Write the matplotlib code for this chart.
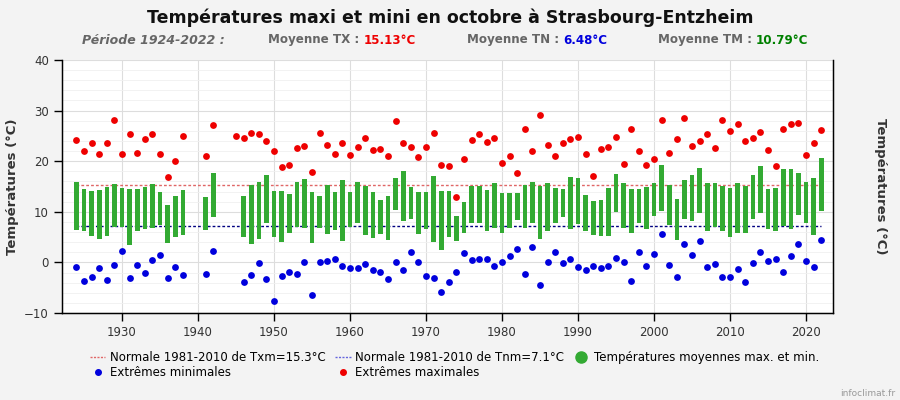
import numpy as np
import matplotlib
matplotlib.use("Agg")
import matplotlib.pyplot as plt
from matplotlib.lines import Line2D

nan = np.nan

# années 1924 -> 2022
annees = np.arange(1924, 2023)

# moyennes des maxi (haut des barres)
tx_moy = [15.9, 14.6, 14.1, 14.3, 14.9, 15.4, 14.7, 14.5, 14.5, 14.9,
          15.4, 14.0, 11.4, 13.1, 14.4, nan, nan, 12.9, 17.6, nan,
          nan, nan, 13.1, 15.2, 15.8, 17.2, 14.1, 14.2, 13.5, 15.8,
          16.5, 13.9, 13.1, 15.2, 13.9, 16.2, 13.9, 15.8, 15.0, 13.9,
          12.3, 13.1, 16.6, 18.0, 14.9, 13.9, 13.9, 17.1, 14.1, 14.1,
          9.1, 11.9, 15.0, 15.0, 14.3, 15.6, 13.7, 13.7, 13.7, 15.2,
          15.8, 15.1, 15.6, 14.7, 14.6, 16.9, 16.6, 13.3, 12.1, 12.3,
          14.7, 17.4, 15.6, 14.5, 14.5, 14.9, 15.6, 19.2, 15.2, 12.5,
          16.2, 17.2, 18.6, 15.7, 15.7, 15.1, 14.7, 15.6, 15.0, 17.2,
          19.0, 14.5, 14.7, 18.4, 18.4, 17.7, 15.8, 16.7, 20.7]

# moyennes des mini (bas des barres)
tn_moy = [6.5, 6.2, 5.2, 4.7, 5.2, 6.9, 6.9, 3.4, 6.2, 6.6,
          6.7, 7.3, 3.8, 5.1, 5.5, nan, nan, 6.5, 9.0, nan,
          nan, nan, 5.0, 3.7, 4.7, 7.8, 5.0, 4.0, 5.8, 6.9,
          6.7, 3.9, 6.7, 5.7, 6.5, 4.3, 7.0, 7.8, 5.4, 4.9,
          5.6, 4.5, 10.3, 8.2, 8.5, 5.6, 6.6, 4.0, 2.4, 5.0,
          4.3, 5.9, 7.8, 7.8, 6.2, 6.7, 5.9, 6.8, 8.4, 6.7,
          7.7, 4.6, 6.3, 7.7, 9.0, 6.6, 7.5, 6.3, 5.5, 5.3,
          5.3, 10.0, 6.8, 5.9, 7.8, 6.6, 9.2, 10.2, 7.3, 4.4,
          8.5, 8.2, 9.8, 6.3, 7.0, 6.3, 5.0, 5.9, 5.8, 8.6,
          9.8, 6.6, 6.2, 7.2, 6.6, 9.4, 7.8, 5.4, 10.2]

# extrêmes maximales
ext_max = [24.2, 22.0, 23.6, 21.5, 23.6, 28.2, 21.4, 25.4, 21.6, 24.4,
           25.4, 21.5, 16.8, 20.1, 25.0, nan, nan, 21.0, 27.2, nan,
           nan, 25.0, 24.6, 25.6, 25.4, 24.0, 22.0, 18.9, 19.3, 22.6,
           23.0, 17.9, 25.6, 23.2, 21.4, 23.6, 21.2, 22.8, 24.6, 22.2,
           22.4, 21.0, 28.0, 23.6, 22.8, 20.9, 22.8, 25.6, 19.3, 19.1,
           12.9, 20.5, 24.2, 25.4, 23.8, 24.6, 19.7, 21.0, 17.7, 26.4,
           22.0, 29.2, 23.2, 21.0, 23.6, 24.4, 24.8, 21.4, 17.1, 22.4,
           22.8, 24.8, 19.5, 26.4, 22.0, 19.3, 20.5, 28.2, 21.6, 24.4,
           28.6, 23.0, 24.0, 25.4, 22.6, 28.2, 26.0, 27.4, 24.0, 24.6,
           25.8, 22.2, 19.1, 26.4, 27.4, 27.6, 21.2, 23.6, 26.2]

# extrêmes minimales
ext_min = [-0.9, -3.6, -2.9, -1.1, -3.4, -0.5, 2.2, -3.1, -0.5, -2.1,
           0.5, 1.4, -3.1, -0.9, -2.5, nan, nan, -2.3, 2.2, nan,
           nan, nan, -3.9, -2.5, -0.1, -3.3, -7.7, -2.7, -1.9, -2.3,
           0.0, -6.5, 0.0, 0.2, 0.7, -0.7, -1.1, -1.1, -0.3, -1.5,
           -1.9, -3.3, 0.1, -1.5, 2.0, 0.1, -2.7, -3.1, -5.9, -3.9,
           -1.9, 1.8, 0.5, 0.7, 0.7, -0.7, 0.1, 1.2, 2.6, -2.3,
           3.0, -4.5, 0.1, 2.0, -0.1, 0.7, -0.9, -1.5, -0.7, -1.1,
           -0.7, 0.9, 0.1, -3.7, 2.0, -0.7, 1.6, 5.6, -0.5, -2.9,
           3.6, 1.4, 4.2, -0.9, -0.3, -2.9, -2.9, -1.3, -3.9, -0.1,
           2.0, 0.3, 0.7, -1.9, 1.2, 3.6, 0.3, -0.9, 4.4]

normale_tx = 15.3
normale_tn = 7.1

tx_moy = np.array(tx_moy)
tn_moy = np.array(tn_moy)

fig = plt.figure(figsize=(9, 4), dpi=100, facecolor="#f3f3f3")
ax = fig.add_axes([62 / 900, 1 - 313 / 400, 771 / 900, 253 / 400])
ax.set_facecolor("white")

gris = "#333333"

# grille
ax.set_xlim(1922.1, 2023.55)
ax.set_ylim(-10, 40)
ax.set_yticks(range(-10, 41, 10))
ax.set_yticks(range(-10, 41, 2), minor=True)
ax.set_xticks(range(1930, 2021, 10))
ax.grid(True, which="major", color="#dddddd", lw=0.8)
ax.grid(True, which="minor", axis="y", color="#f0f0f0", lw=0.6)
ax.set_axisbelow(True)

# barres des moyennes
ax.bar(annees, tx_moy - tn_moy, bottom=tn_moy, width=0.6,
       color="#33aa33", zorder=3)

# normales
ax.plot([1924, 2022], [normale_tx, normale_tx], ls=(0, (2, 1.5)),
        color="#e06666", lw=1, zorder=2)
ax.plot([1924, 2022], [normale_tn, normale_tn], ls=(0, (2, 1.5)),
        color="#000080", lw=1, zorder=2)

# extrêmes
ax.scatter(annees, ext_max, s=24, color="#ee0000", zorder=4, lw=0)
ax.scatter(annees, ext_min, s=24, color="#0000dd", zorder=4, lw=0)

for s in ["left", "right", "bottom"]:
    ax.spines[s].set_color("black")
    ax.spines[s].set_linewidth(1)
ax.spines["top"].set_visible(False)

ax.tick_params(axis="both", which="major", length=6, width=1,
               labelsize=8.5, labelcolor=gris, direction="out")
ax.tick_params(axis="y", which="minor", length=0)
ax.tick_params(axis="y", right=True, labelright=True)
ax.set_ylabel("Températures (°C)", fontsize=9.5, fontweight="bold", color=gris)
ax.yaxis.set_label_coords((19 - 62) / 771, 0.5)

ax2 = ax.twinx()
ax2.set_ylim(-10, 40)
ax2.set_yticks([])
ax2.spines["top"].set_visible(False)
ax2.set_ylabel("Températures (°C)", fontsize=9.5, fontweight="bold",
               color=gris, rotation=270, va="center")
ax2.yaxis.set_label_coords((880 - 62) / 771, 0.5)

# titres
fig.text(0.5, 1 - 18 / 400, "Températures maxi et mini en octobre à Strasbourg-Entzheim",
         ha="center", va="center", fontsize=12.5, fontweight="bold", color="#111111")
sy = 1 - 40 / 400
fig.text(82 / 900, sy, "Période 1924-2022 :", ha="left", va="center",
         fontsize=9, fontweight="bold", style="italic", color="#666666")

renderer = fig.canvas.get_renderer()
for x0, lab, val, col in [(268, "Moyenne TX : ", "15.13°C", "#ee0000"),
                          (467, "Moyenne TN : ", "6.48°C", "#0000dd"),
                          (658, "Moyenne TM : ", "10.79°C", "#008000")]:
    t = fig.text(x0 / 900, sy, lab, ha="left", va="center",
                 fontsize=8.6, fontweight="bold", color="#666666")
    bb = t.get_window_extent(renderer)
    fig.text(bb.x1 / 900, sy, val, ha="left", va="center",
             fontsize=8.6, fontweight="bold", color=col)

# légende
h_ntx = Line2D([], [], ls=(0, (1.5, 1)), color="#e06666", lw=1)
h_ntn = Line2D([], [], ls=(0, (1.5, 1)), color="#6666dd", lw=1)
h_moy = Line2D([], [], ls="", marker="o", ms=8, color="#33aa33")
h_min = Line2D([], [], ls="", marker="o", ms=4, color="#0000dd")
h_max = Line2D([], [], ls="", marker="o", ms=4, color="#ee0000")
fig.legend([h_ntx, h_min, h_ntn, h_max, h_moy],
           ["Normale 1981-2010 de Txm=15.3°C", "Extrêmes minimales",
            "Normale 1981-2010 de Tnm=7.1°C", "Extrêmes maximales",
            "Températures moyennes max. et min."],
           ncol=3, loc="upper left", bbox_to_anchor=(90 / 900, 1 - 351 / 400),
           frameon=False, fontsize=8.5, handlelength=1.3, handletextpad=0.4,
           columnspacing=0.8, labelspacing=0.15, borderaxespad=0, borderpad=0)

fig.text(895 / 900, 1 - 393 / 400, "infoclimat.fr", ha="right", va="center",
         fontsize=6.5, color="#999999")

fig.savefig("out.png", dpi=100, facecolor=fig.get_facecolor())
